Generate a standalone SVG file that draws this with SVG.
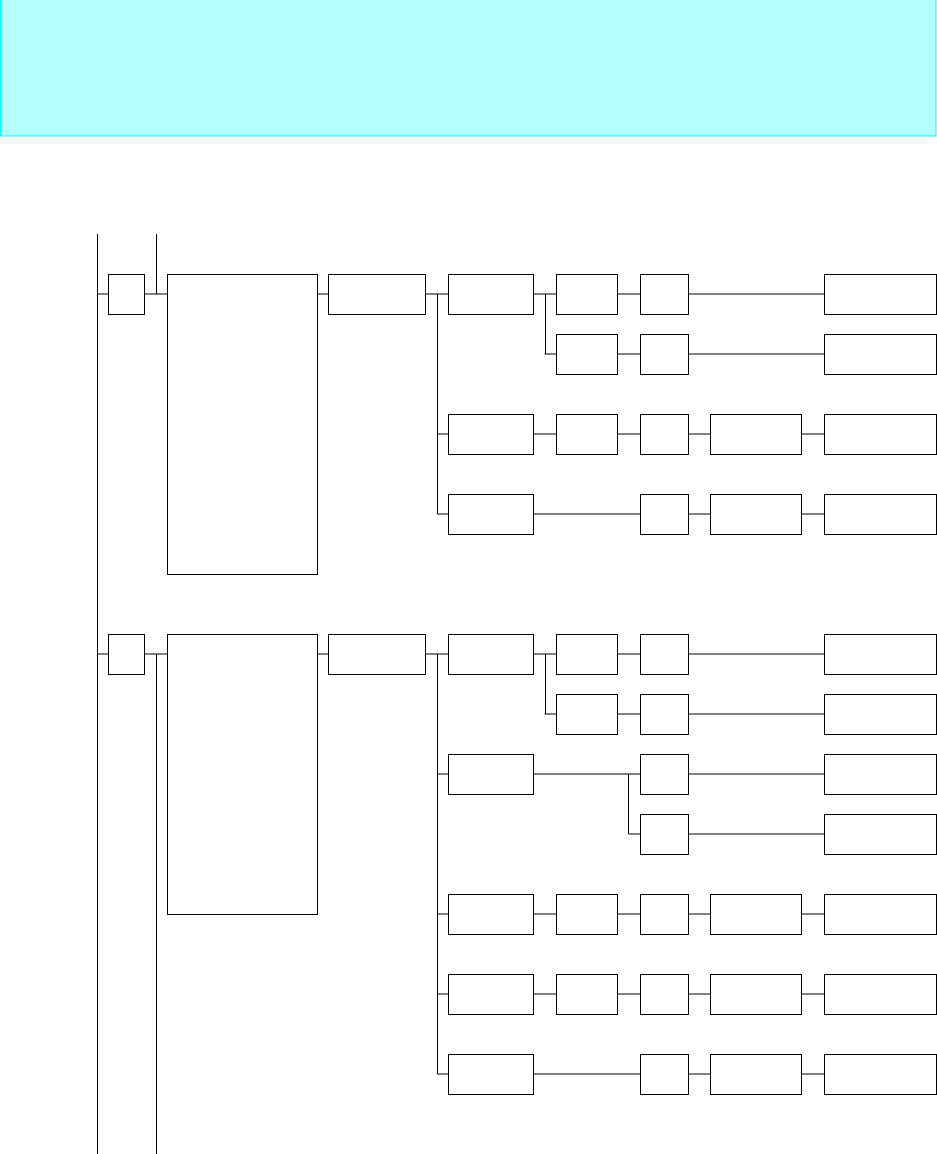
<svg xmlns="http://www.w3.org/2000/svg" width="937" height="1154" viewBox="0 0 937 1154">
<style>
.n{fill:#fff;stroke:#000;stroke-width:1}
.c{fill:none;stroke:#000;stroke-width:1}
</style>
<rect width="937" height="1154" fill="#fff"/>
<rect id="header" x="0.5" y="-0.5" width="935.5" height="136.5" fill="#b3ffff" stroke="#00ffff" stroke-width="1"/>
<g id="connectors" class="c">
<path class="c" d="M97.5 234V1154M156.5 234V294M156.5 654V1154"/>
<!-- section 1 -->
<path class="c" d="M97.5 294H108.5M144.5 294H167.5M317.5 294H328.5M425.5 294H448.5M437.5 294V514M437.5 434H448.5M437.5 514H448.5"/>
<path class="c" d="M533.5 294H556.5M545.5 294V354M544.5 354H556.5M617.5 294H640.5M688.5 294H824.5M617.5 354H640.5M688.5 354H824.5"/>
<path class="c" d="M533.5 434H556.5M617.5 434H640.5M688.5 434H710.5M801.5 434H824.5"/>
<path class="c" d="M533.5 514H640.5M688.5 514H710.5M801.5 514H824.5"/>
<!-- section 2 -->
<path class="c" d="M97.5 654H108.5M144.5 654H167.5M317.5 654H328.5M425.5 654H448.5M437.5 654V1074M437.5 774H448.5M437.5 914H448.5M437.5 994H448.5M437.5 1074H448.5"/>
<path class="c" d="M533.5 654H556.5M545.5 654V714M544.5 714H556.5M617.5 654H640.5M688.5 654H824.5M617.5 714H640.5M688.5 714H824.5"/>
<path class="c" d="M533.5 774H640.5M628.5 774V834H640.5M688.5 774H824.5M688.5 834H824.5"/>
<path class="c" d="M533.5 914H556.5M617.5 914H640.5M688.5 914H710.5M801.5 914H824.5"/>
<path class="c" d="M533.5 994H556.5M617.5 994H640.5M688.5 994H710.5M801.5 994H824.5"/>
<path class="c" d="M533.5 1074H640.5M688.5 1074H710.5M801.5 1074H824.5"/>
</g>
<!-- section 1 nodes -->
<g id="n1"><rect class="n" x="108.5" y="274.5" width="36" height="40"/></g>
<g id="n2"><rect class="n" x="167.5" y="274.5" width="150" height="300"/></g>
<g id="n3"><rect class="n" x="328.5" y="274.5" width="97" height="40"/></g>
<g id="n4"><rect class="n" x="448.5" y="274.5" width="85" height="40"/></g>
<g id="n5"><rect class="n" x="556.5" y="274.5" width="61" height="40"/></g>
<g id="n6"><rect class="n" x="640.5" y="274.5" width="48" height="40"/></g>
<g id="n7"><rect class="n" x="824.5" y="274.5" width="112" height="40"/></g>
<g id="n8"><rect class="n" x="556.5" y="334.5" width="61" height="40"/></g>
<g id="n9"><rect class="n" x="640.5" y="334.5" width="48" height="40"/></g>
<g id="n10"><rect class="n" x="824.5" y="334.5" width="112" height="40"/></g>
<g id="n11"><rect class="n" x="448.5" y="414.5" width="85" height="40"/></g>
<g id="n12"><rect class="n" x="556.5" y="414.5" width="61" height="40"/></g>
<g id="n13"><rect class="n" x="640.5" y="414.5" width="48" height="40"/></g>
<g id="n14"><rect class="n" x="710.5" y="414.5" width="91" height="40"/></g>
<g id="n15"><rect class="n" x="824.5" y="414.5" width="112" height="40"/></g>
<g id="n16"><rect class="n" x="448.5" y="494.5" width="85" height="40"/></g>
<g id="n17"><rect class="n" x="640.5" y="494.5" width="48" height="40"/></g>
<g id="n18"><rect class="n" x="710.5" y="494.5" width="91" height="40"/></g>
<g id="n19"><rect class="n" x="824.5" y="494.5" width="112" height="40"/></g>
<!-- section 2 nodes -->
<g id="m1"><rect class="n" x="108.5" y="634.5" width="36" height="40"/></g>
<g id="m2"><rect class="n" x="167.5" y="634.5" width="150" height="280"/></g>
<g id="m3"><rect class="n" x="328.5" y="634.5" width="97" height="40"/></g>
<g id="m4"><rect class="n" x="448.5" y="634.5" width="85" height="40"/></g>
<g id="m5"><rect class="n" x="556.5" y="634.5" width="61" height="40"/></g>
<g id="m6"><rect class="n" x="640.5" y="634.5" width="48" height="40"/></g>
<g id="m7"><rect class="n" x="824.5" y="634.5" width="112" height="40"/></g>
<g id="m8"><rect class="n" x="556.5" y="694.5" width="61" height="40"/></g>
<g id="m9"><rect class="n" x="640.5" y="694.5" width="48" height="40"/></g>
<g id="m10"><rect class="n" x="824.5" y="694.5" width="112" height="40"/></g>
<g id="m11"><rect class="n" x="448.5" y="754.5" width="85" height="40"/></g>
<g id="m12"><rect class="n" x="640.5" y="754.5" width="48" height="40"/></g>
<g id="m13"><rect class="n" x="824.5" y="754.5" width="112" height="40"/></g>
<g id="m14"><rect class="n" x="640.5" y="814.5" width="48" height="40"/></g>
<g id="m15"><rect class="n" x="824.5" y="814.5" width="112" height="40"/></g>
<g id="m16"><rect class="n" x="448.5" y="894.5" width="85" height="40"/></g>
<g id="m17"><rect class="n" x="556.5" y="894.5" width="61" height="40"/></g>
<g id="m18"><rect class="n" x="640.5" y="894.5" width="48" height="40"/></g>
<g id="m19"><rect class="n" x="710.5" y="894.5" width="91" height="40"/></g>
<g id="m20"><rect class="n" x="824.5" y="894.5" width="112" height="40"/></g>
<g id="m21"><rect class="n" x="448.5" y="974.5" width="85" height="40"/></g>
<g id="m22"><rect class="n" x="556.5" y="974.5" width="61" height="40"/></g>
<g id="m23"><rect class="n" x="640.5" y="974.5" width="48" height="40"/></g>
<g id="m24"><rect class="n" x="710.5" y="974.5" width="91" height="40"/></g>
<g id="m25"><rect class="n" x="824.5" y="974.5" width="112" height="40"/></g>
<g id="m26"><rect class="n" x="448.5" y="1054.5" width="85" height="40"/></g>
<g id="m27"><rect class="n" x="640.5" y="1054.5" width="48" height="40"/></g>
<g id="m28"><rect class="n" x="710.5" y="1054.5" width="91" height="40"/></g>
<g id="m29"><rect class="n" x="824.5" y="1054.5" width="112" height="40"/></g>
</svg>
